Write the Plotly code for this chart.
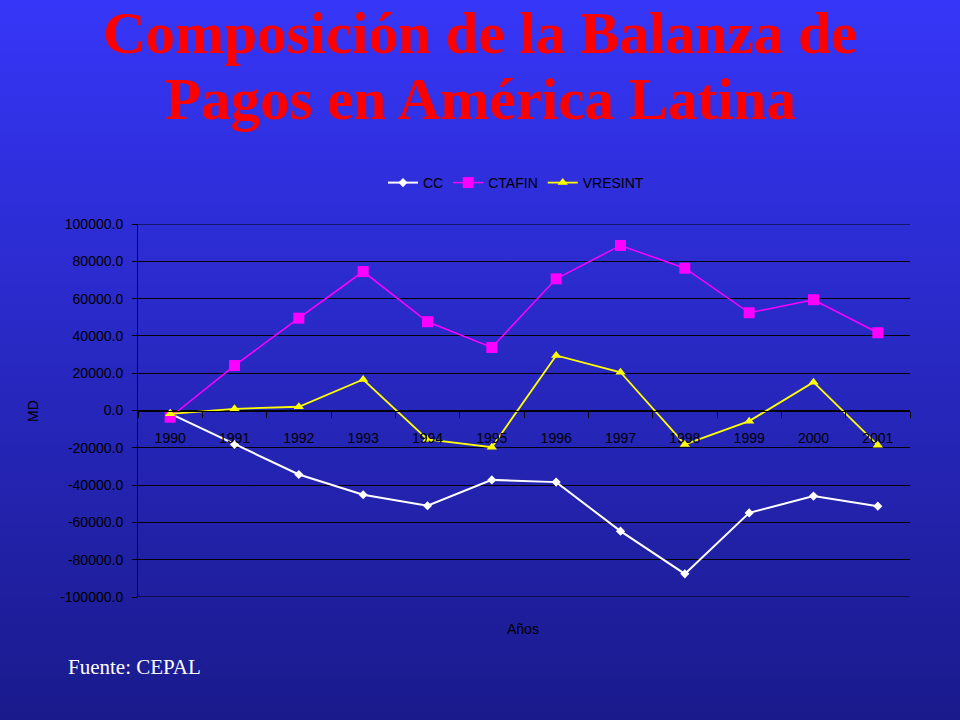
import base64
import plotly.graph_objects as go

years = ["1990", "1991", "1992", "1993", "1994", "1995", "1996", "1997", "1998", "1999", "2000", "2001"]
cc = [-1700, -18200, -34300, -45200, -51100, -37200, -38400, -64700, -87600, -54900, -45900, -51300]
ctafin = [-3600, 24100, 49500, 74500, 47600, 33800, 70600, 88500, 76300, 52400, 59400, 41700]
vresint = [-1800, 900, 2000, 16600, -15500, -19700, 29500, 20500, -18200, -5700, 15200, -18600]
y_ticks = [100000, 80000, 60000, 40000, 20000, 0, -20000, -40000, -60000, -80000, -100000]
y_tick_labels = ["100000.0", "80000.0", "60000.0", "40000.0", "20000.0", "0.0",
                 "-20000.0", "-40000.0", "-60000.0", "-80000.0", "-100000.0"]

W, H = 960, 720
L, R, T, B = 138, 50, 224, 123
pw, ph = W - L - R, H - T - B


def px(x):
    return (x - L) / pw


def py(y):
    return 1 - (y - T) / ph


svg = ('<svg xmlns="http://www.w3.org/2000/svg" width="960" height="720" preserveAspectRatio="none">'
       '<defs><linearGradient id="g" x1="0" y1="0" x2="0" y2="1">'
       '<stop offset="0" stop-color="#3636F8"/><stop offset="1" stop-color="#1A1A8C"/>'
       '</linearGradient></defs><rect width="960" height="720" fill="url(#g)"/></svg>')
bg_src = "data:image/svg+xml;base64," + base64.b64encode(svg.encode()).decode()

fig = go.Figure()
fig.add_trace(go.Scatter(x=years, y=cc, name="CC", mode="lines+markers",
                         line=dict(color="#FFFFFF", width=2),
                         marker=dict(symbol="diamond", size=7, color="#FFFFFF")))
fig.add_trace(go.Scatter(x=years, y=ctafin, name="CTAFIN", mode="lines+markers",
                         line=dict(color="#FF00FF", width=1.5),
                         marker=dict(symbol="square", size=11, color="#FF00FF")))
fig.add_trace(go.Scatter(x=years, y=vresint, name="VRESINT", mode="lines+markers",
                         line=dict(color="#FFFF00", width=1.8),
                         marker=dict(symbol="triangle-up", size=9, color="#FFFF00")))

serif = "Liberation Serif, Times New Roman, serif"
fig.update_layout(
    width=W, height=H,
    margin=dict(l=L, r=R, t=T, b=B),
    paper_bgcolor="#2828C0",
    plot_bgcolor="rgba(0,0,0,0)",
    font=dict(family="Liberation Sans, Arial, sans-serif", color="#000000", size=14),
    legend=dict(orientation="h", x=516 / W, xref="container", xanchor="center",
                y=1 - 183 / H, yref="container", yanchor="middle",
                bgcolor="rgba(0,0,0,0)", font=dict(size=14, color="#000000"),
                itemwidth=30, tracegroupgap=0),
    showlegend=True,
    images=[dict(source=bg_src, xref="paper", yref="paper",
                 x=-L / pw, y=1 + T / ph, sizex=W / pw, sizey=H / ph,
                 xanchor="left", yanchor="top", sizing="stretch", layer="below")],
    xaxis=dict(type="category", range=[-0.5, 11.5], anchor="free", position=0.5,
               showline=True, linecolor="#000000", linewidth=1,
               ticks="outside", tickson="boundaries", ticklen=6, tickcolor="#000000",
               showgrid=False, ticklabelstandoff=15,
               tickfont=dict(size=14, color="#000000")),
    yaxis=dict(range=[-100000, 100000], tickvals=y_ticks, ticktext=y_tick_labels,
               showline=True, linecolor="#000000", linewidth=1,
               ticks="outside", ticklen=5, tickcolor="#000000", ticklabelstandoff=6,
               showgrid=True, gridcolor="#000000", gridwidth=1, zeroline=False,
               tickfont=dict(size=14, color="#000000")),
    shapes=[
        dict(type="line", xref="paper", yref="y", x0=0, x1=1, y0=y_ticks[0], y1=y_ticks[0],
             line=dict(color="#000000", width=1)),
        dict(type="line", xref="paper", yref="y", x0=0, x1=1, y0=y_ticks[-1], y1=y_ticks[-1],
             line=dict(color="#000000", width=1)),
    ],
    annotations=[
        dict(text="<b>Composición de la Balanza de</b>", x=px(480), y=py(33),
             xref="paper", yref="paper", xanchor="center", yanchor="middle", showarrow=False,
             font=dict(family=serif, size=59, color="#FF0000")),
        dict(text="<b>Pagos en América Latina</b>", x=px(480), y=py(99),
             xref="paper", yref="paper", xanchor="center", yanchor="middle", showarrow=False,
             font=dict(family=serif, size=59, color="#FF0000")),
        dict(text="MD", x=px(33), y=py(411), xref="paper", yref="paper",
             xanchor="center", yanchor="middle",
             showarrow=False, textangle=-90, font=dict(size=14, color="#000000")),
        dict(text="Años", x=px(523), y=py(629), xref="paper", yref="paper",
             xanchor="center", yanchor="middle",
             showarrow=False, font=dict(size=14, color="#000000")),
        dict(text="Fuente: CEPAL", x=px(66), y=py(667), xref="paper", yref="paper",
             xanchor="left", yanchor="middle", showarrow=False,
             font=dict(family=serif, size=21, color="#FFFFFF")),
    ],
)

fig.write_html("out.html", config={"displayModeBar": False},
               post_script="document.body.style.margin='0';document.body.style.overflow='hidden';")
